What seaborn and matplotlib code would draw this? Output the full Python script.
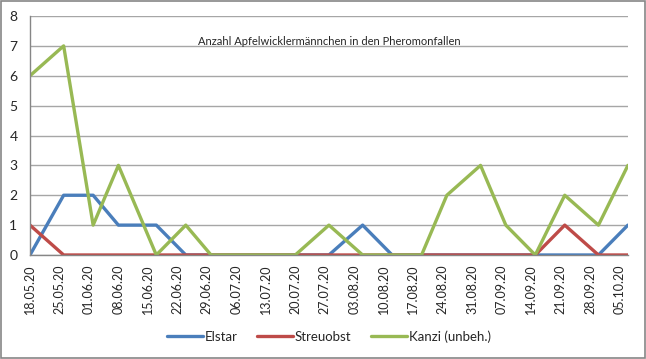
import matplotlib
matplotlib.use("Agg")
import matplotlib.pyplot as plt
import matplotlib.patches as mpatches
import seaborn as sns
import pandas as pd

# Fangdaten (Pheromonfallen)
datum = ['18.05.2020', '26.05.2020', '02.06.2020', '08.06.2020', '17.06.2020',
         '24.06.2020', '30.06.2020', '07.07.2020', '14.07.2020', '20.07.2020',
         '28.07.2020', '05.08.2020', '12.08.2020', '19.08.2020', '25.08.2020',
         '02.09.2020', '08.09.2020', '15.09.2020', '22.09.2020', '30.09.2020',
         '07.10.2020']
elstar = [0, 2, 2, 1, 1, 0, 0, 0, 0, 0, 0, 1, 0, 0, 0, 0, 0, 0, 0, 0, 1]
streuobst = [1, 0, 0, 0, 0, 0, 0, 0, 0, 0, 0, 0, 0, 0, 0, 0, 0, 0, 1, 0, 0]
kanzi = [6, 7, 1, 3, 0, 1, 0, 0, 0, 0, 1, 0, 0, 0, 2, 3, 1, 0, 2, 1, 3]
sorten = ['Elstar', 'Streuobst', 'Kanzi (unbeh.)']
farben = ['#4A7EBB', '#BE4B48', '#98B954']
tick_start, tick_ende = '2020-05-18', '2020-10-05'
titel = 'Anzahl Apfelwicklermännchen in den Pheromonfallen'

d = pd.to_datetime(datum, format='%d.%m.%Y')
df = pd.concat([
    pd.DataFrame({'Datum': d, 'Anzahl': werte, 'Sorte': name})
    for name, werte in zip(sorten, [elstar, streuobst, kanzi])
])

sns.set_style('white')
plt.rcParams['font.family'] = ['Lato', 'DejaVu Sans']

fig = plt.figure(figsize=(6.46, 3.59), dpi=100)
ax = fig.add_axes([0.0464, 0.2897, 0.9256, 0.6657])

sns.lineplot(data=df, x='Datum', y='Anzahl', hue='Sorte', hue_order=sorten,
             palette=farben, linewidth=2.4, ax=ax)

ax.set_xlim(d[0], d[-1])
ax.set_ylim(0, 8)
ax.set_yticks(range(0, 9))
ticks = pd.date_range(tick_start, tick_ende, freq='7D')
ax.set_xticks(ticks)
ax.set_xticklabels([t.strftime('%d.%m.%y') for t in ticks], rotation=90,
                   fontsize=9)
ax.tick_params(axis='y', labelsize=10, length=4, color='#868686', pad=5)
ax.tick_params(axis='x', length=4, color='#868686', pad=3)
ax.yaxis.grid(True, color='#A6A6A6', linewidth=1)
ax.set_axisbelow(True)
for s in ['top', 'right']:
    ax.spines[s].set_visible(False)
for s in ['left', 'bottom']:
    ax.spines[s].set_color('#868686')
    ax.spines[s].set_linewidth(1)
ax.set_xlabel('')
ax.set_ylabel('')

ax.text(0.5, 0.895, titel, transform=ax.transAxes, ha='center', va='center',
        fontsize=8)

leg = ax.legend(loc='center', bbox_to_anchor=(0.5, -0.34), ncol=3,
                frameon=False, fontsize=9.5, handlelength=2.7,
                handletextpad=0.15, columnspacing=1.5)

fig.patches.append(mpatches.Rectangle((0.001, 0.002), 0.997, 0.995,
                                      transform=fig.transFigure, fill=False,
                                      edgecolor='#868686', linewidth=1.2))

fig.savefig('out.png', dpi=100)
